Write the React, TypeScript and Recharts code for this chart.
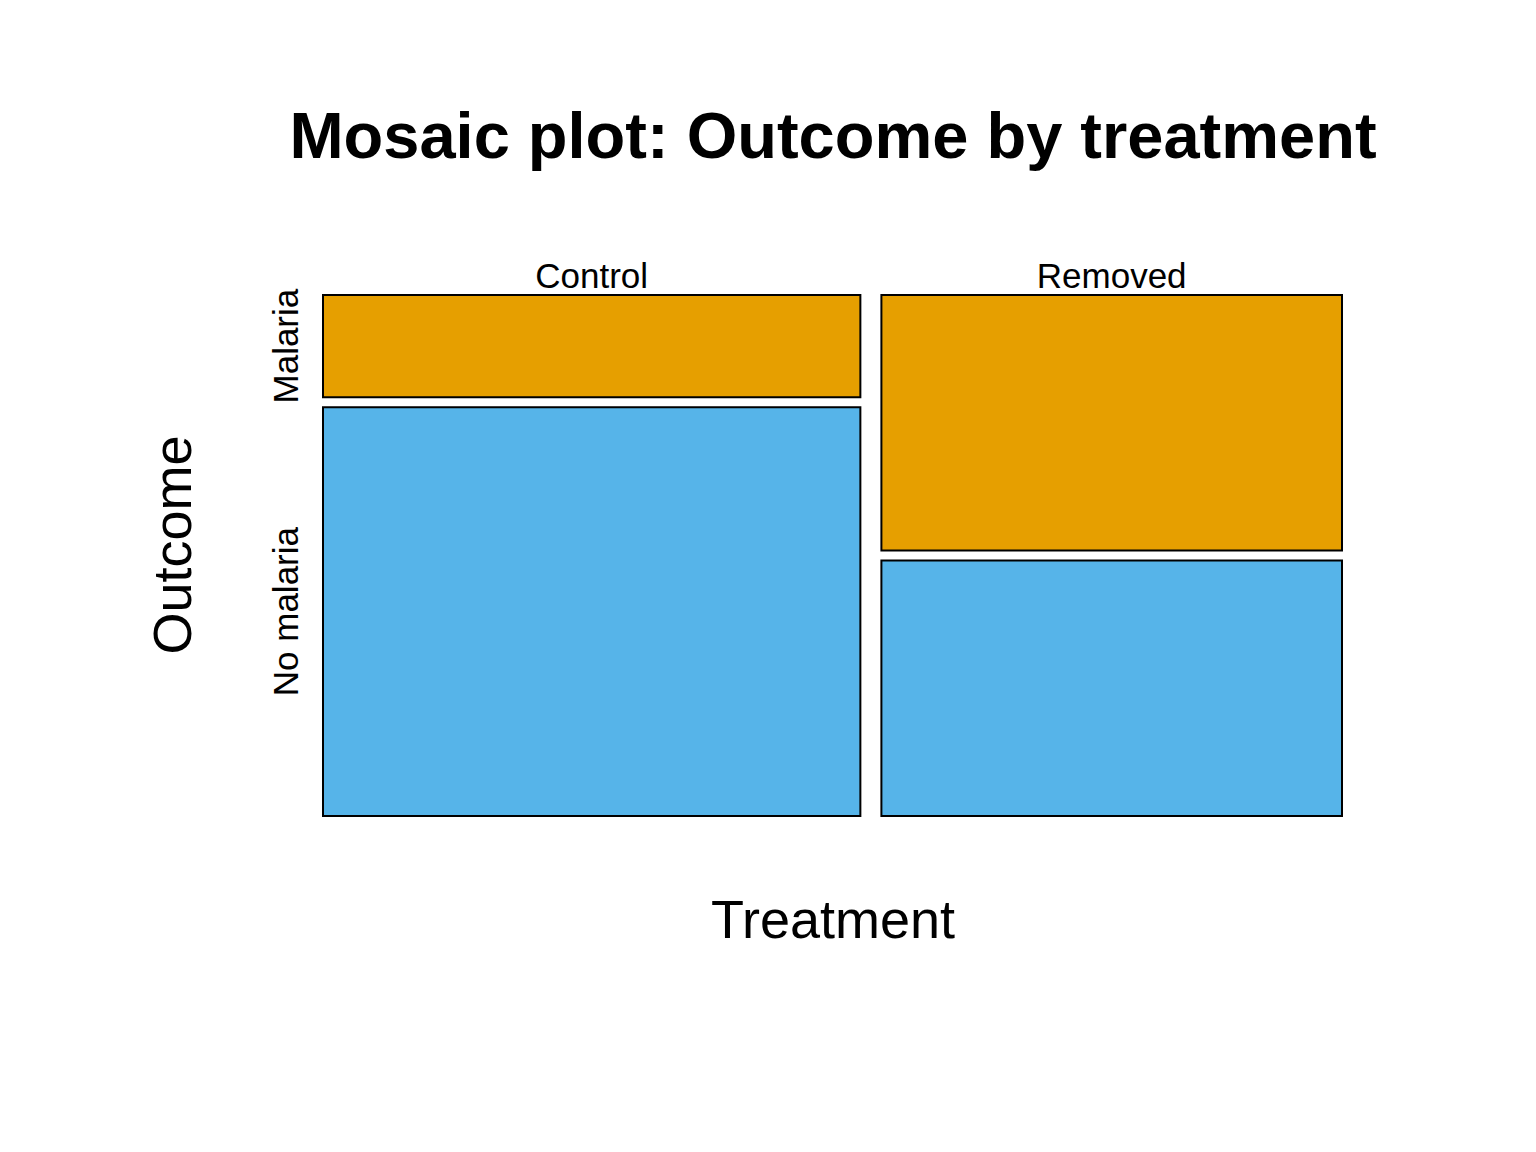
import React from "react"
import { ScatterChart, Scatter, XAxis, YAxis, ReferenceArea, Label } from "recharts"

// counts per treatment group
const treatments = ["Control", "Removed"]
const outcomes = ["Malaria", "No malaria"]
const malariaCounts = [7, 15]
const noMalariaCounts = [28, 15]

const outcomeColors = ["#E69F00", "#56B4E9"]

const GAP_X = 1.37
const GAP_Y = 0.0196
const W = 1536
const H = 1152

type Cell = {
  treatment: string
  outcome: string
  x1: number
  x2: number
  y1: number
  y2: number
  color: string
  firstCol: boolean
  top: boolean
}

const cells: Cell[] = []
let xStart = 0
treatments.forEach((t, i) => {
  const total = malariaCounts[i] + noMalariaCounts[i]
  const pNo = noMalariaCounts[i] / total
  const x1 = xStart
  const x2 = xStart + total
  // no malaria at the bottom, malaria on top
  cells.push({
    treatment: t, outcome: outcomes[1], x1, x2, y1: 0, y2: pNo,
    color: outcomeColors[1], firstCol: i === 0, top: false,
  })
  cells.push({
    treatment: t, outcome: outcomes[0], x1, x2, y1: pNo + GAP_Y, y2: 1 + GAP_Y,
    color: outcomeColors[0], firstCol: i === 0, top: true,
  })
  xStart = x2 + GAP_X
})
const xMax = xStart - GAP_X
const centers = cells.map((c) => ({ x: (c.x1 + c.x2) / 2, y: (c.y1 + c.y2) / 2 }))

const font = "'Liberation Sans', Arial, sans-serif"

function cellLabel(c: Cell) {
  return (props: any) => {
    const vb = props.viewBox || {}
    const { x, y, width, height } = vb
    const out: React.ReactNode[] = []
    if (c.top) {
      out.push(
        <text key="col" x={x + width / 2} y={y - 7} textAnchor="middle"
          fontFamily={font} fontSize={35} fill="#000">{c.treatment}</text>
      )
    }
    if (c.firstCol) {
      const cx = x - 25
      const cy = y + height / 2
      out.push(
        <text key="row" x={cx} y={cy} textAnchor="middle"
          transform={`rotate(-90 ${cx} ${cy})`}
          fontFamily={font} fontSize={35} fill="#000">{c.outcome}</text>
      )
    }
    return <g>{out}</g>
  }
}

export default function App() {
  return (
    <div style={{ position: "absolute", left: 0, top: 0, width: W, height: H, background: "#fff" }}>
      <ScatterChart width={W} height={H}
        margin={{ top: 295, right: 194, bottom: 336, left: 323 }}>
        <XAxis type="number" dataKey="x" domain={[0, xMax]} hide allowDataOverflow />
        <YAxis type="number" dataKey="y" domain={[0, 1 + GAP_Y]} hide allowDataOverflow />
        {cells.map((c) => (
          <ReferenceArea key={c.treatment + c.outcome}
            x1={c.x1} x2={c.x2} y1={c.y1} y2={c.y2}
            fill={c.color} fillOpacity={1} stroke="#000" strokeWidth={2}>
            <Label content={cellLabel(c)} />
          </ReferenceArea>
        ))}
        <Scatter data={centers} isAnimationActive={false} shape={() => <g />} />
      </ScatterChart>
      <svg width={W} height={H} style={{ position: "absolute", left: 0, top: 0, pointerEvents: "none" }}>
        <text x={833} y={158} textAnchor="middle" fontFamily={font} fontWeight="bold" fontSize={65}>
          Mosaic plot: Outcome by treatment
        </text>
        <text x={833} y={938} textAnchor="middle" fontFamily={font} fontSize={54}>
          Treatment
        </text>
        <text x={191} y={545} textAnchor="middle" fontFamily={font} fontSize={54}
          transform="rotate(-90 191 545)">
          Outcome
        </text>
      </svg>
    </div>
  )
}
